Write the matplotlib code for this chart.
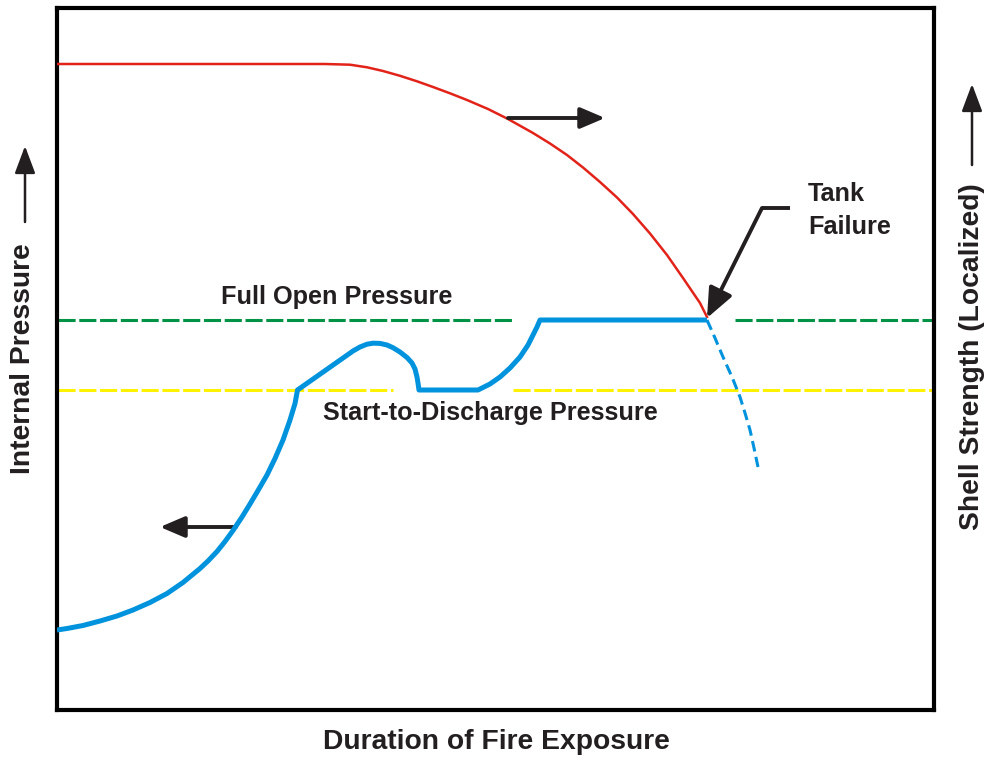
import matplotlib
matplotlib.use("Agg")
from matplotlib import pyplot as plt

plt.rcParams["font.family"] = ["Liberation Sans", "DejaVu Sans"]
plt.rcParams["font.weight"] = "bold"

# chart units: x = duration of exposure, y = pressure / strength (arbitrary)
shell_x = [1, 268, 293, 310, 326, 343, 360, 376, 393, 410, 431, 451, 476, 493, 510,
           526, 543, 560, 576, 593, 610, 626, 643, 650]
shell_y = [646, 646, 645.3, 642.7, 639, 634.2, 628.7, 623, 616.7, 610, 601, 591, 577,
           566.5, 555, 542.5, 528, 512.5, 496, 476.5, 455, 432, 407, 393]

pressure_x = [0, 10, 26, 43, 60, 76, 93, 110, 126, 143, 151, 160, 168, 176, 185, 193,
              201, 210, 218, 226, 233, 238, 240.5,
              296, 303, 310, 316, 323, 330, 336, 343, 350, 355, 358, 360, 361, 362,
              421, 433, 443, 453, 463, 471, 476, 480, 483, 650]
pressure_y = [80, 81.5, 84.5, 89, 94, 100, 107.5, 116.5, 127.5, 141.5, 149, 158.5,
              168.5, 179.5, 193, 206, 219.5, 235, 251.5, 270, 290, 306.5, 320,
              359, 363, 365.8, 366.8, 366.6, 365, 362.3, 358, 352.5, 347, 341, 333,
              327, 320,
              320, 326, 333, 342, 353, 365, 375, 383, 390, 390]

failed_x = [650, 658, 666, 675, 683, 688, 693, 697, 701]
failed_y = [390, 372, 353, 333, 313, 297, 280, 262, 243]

full_open = 390
start_discharge = 320
full_open_spans = [(1, 456), (678, 877)]
start_spans = [(1, 336), (456, 877)]

BLUE = "#0093dd"
RED = "#e2231a"
GREEN = "#009245"
YELLOW = "#fff200"
INK = "#231f20"

fig = plt.figure(figsize=(9.9, 7.64), dpi=100)
ax = fig.add_axes([57 / 990, 54 / 764, 877 / 990, 702 / 764])
ax.set_xlim(0, 877)
ax.set_ylim(0, 702)
ax.set_xticks([])
ax.set_yticks([])
for s in ax.spines.values():
    s.set_linewidth(3)
    s.set_color("black")

for a, b in full_open_spans:
    ax.plot([a, b], [full_open, full_open], color=GREEN, lw=2.2, dashes=(5.6, 1.2),
            dash_capstyle="butt", zorder=2)
for a, b in start_spans:
    ax.plot([a, b], [start_discharge, start_discharge], color=YELLOW, lw=2.2,
            dashes=(5.6, 1.2), dash_capstyle="butt", zorder=2)

ax.plot(shell_x, shell_y, color=RED, lw=1.8, solid_joinstyle="round", zorder=3)
ax.plot(pressure_x, pressure_y, color=BLUE, lw=3.6, solid_joinstyle="round",
        solid_capstyle="butt", zorder=4)
ax.plot(failed_x, failed_y, color=BLUE, lw=2.2, dashes=(3.5, 1.8), zorder=4)

arrow_kw = dict(arrowstyle="-|>,head_length=0.75,head_width=0.32", color=INK,
                lw=2.8, mutation_scale=20, shrinkA=0, shrinkB=0)
ax.annotate("", xy=(548, 592), xytext=(451, 592), arrowprops=arrow_kw)
ax.annotate("", xy=(103, 183), xytext=(179, 183), arrowprops=arrow_kw)
ax.plot([705, 733], [502, 502], color=INK, lw=2.8, solid_capstyle="butt")
tank_kw = dict(arrow_kw, arrowstyle="-|>,head_length=0.9,head_width=0.38")
ax.annotate("", xy=(650, 392), xytext=(705, 502), arrowprops=tank_kw)

lab = dict(fontsize=18.2, color=INK)
ax.text(280, 413, "Full Open Pressure", ha="center", va="center", **lab)
ax.text(433, 297, "Start-to-Discharge Pressure", ha="center", va="center", **lab)
ax.text(751, 516, "Tank", ha="left", va="center", **lab)
ax.text(751, 483, "Failure", ha="left", va="center", **lab)

axis_lab = dict(fontsize=20.3, color=INK, ha="center", va="center")
fig.text(496 / 990, 1 - 742 / 764, "Duration of Fire Exposure", **axis_lab)
fig.text(23 / 990, 1 - 359 / 764, "Internal Pressure", rotation=90, **axis_lab)
fig.text(972 / 990, 1 - 357 / 764, "Shell Strength (Localized)", rotation=90,
         **axis_lab)

up_kw = dict(arrowstyle="-|>,head_length=1.2,head_width=0.45", color=INK, lw=1.8,
             mutation_scale=14, shrinkA=0, shrinkB=0)
fig.add_artist(matplotlib.patches.FancyArrowPatch(
    (25 / 990, 1 - 222 / 764), (25 / 990, 1 - 146 / 764),
    transform=fig.transFigure, **up_kw))
fig.add_artist(matplotlib.patches.FancyArrowPatch(
    (972 / 990, 1 - 165 / 764), (972 / 990, 1 - 84 / 764),
    transform=fig.transFigure, **up_kw))

fig.savefig("out.png", dpi=100)
